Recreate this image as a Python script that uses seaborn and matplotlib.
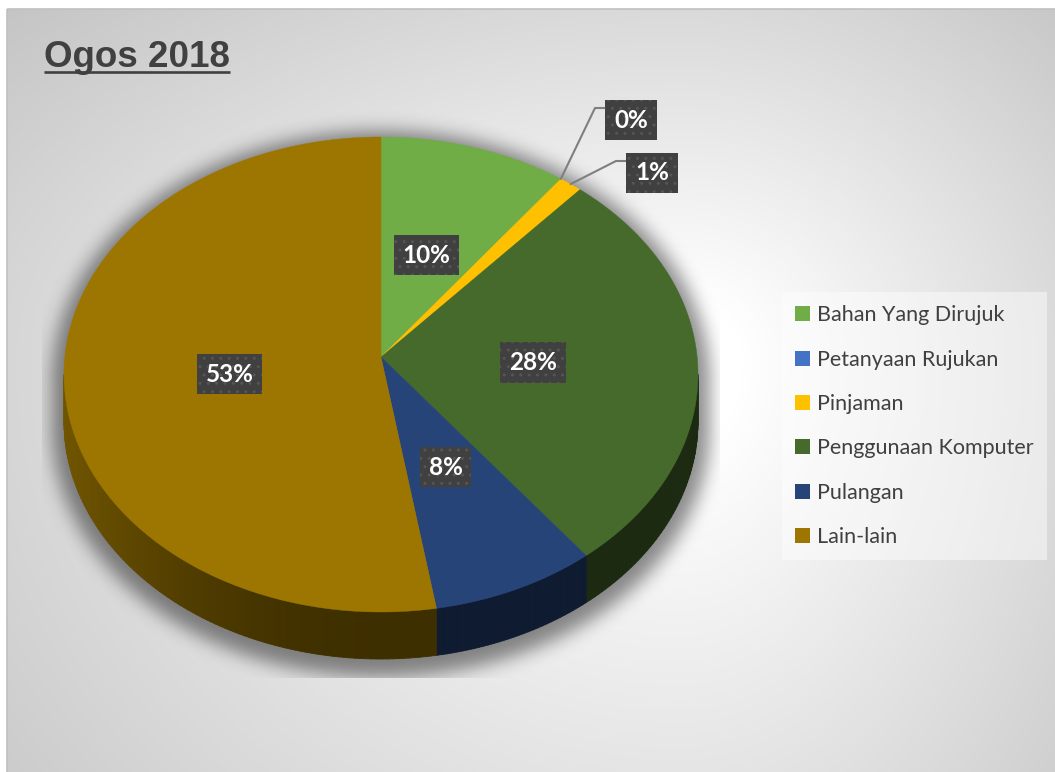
import numpy as np
import matplotlib
matplotlib.use('Agg')
import matplotlib.pyplot as plt
import seaborn as sns
from matplotlib.collections import PolyCollection
from matplotlib.patches import Patch, Polygon, Rectangle
from matplotlib.colors import to_rgb

# Chart data (percent of total)
categories = ['Bahan Yang Dirujuk', 'Petanyaan Rujukan', 'Pinjaman',
              'Penggunaan Komputer', 'Pulangan', 'Lain-lain']
values = [9.6, 0.0, 1.2, 28.0, 8.4, 52.8]
colors = ['#70ad47', '#4472c4', '#ffc000', '#456a2c', '#264478', '#9c7600']
title = 'Ogos 2018'

sns.set_style('white')
plt.rcParams['font.family'] = ['Lato', 'DejaVu Sans']
palette = sns.color_palette(colors)

W, H = 1055, 772
fig = plt.figure(figsize=(W / 100, H / 100), dpi=100)
ax = fig.add_axes([0, 0, 1, 1])
ax.set_xlim(0, W)
ax.set_ylim(H, 0)
ax.axis('off')

# pie geometry in pixels
CX, CY, RX, RY = 381, 374.5, 317, 237.5
VY = 357
DEPTH = 47


def arc(t0, t1, dy=0.0):
    n = max(2, int(abs(t1 - t0) * 2) + 2)
    t = np.radians(np.linspace(t0, t1, n))
    return np.column_stack([CX + RX * np.sin(t), CY + dy - RY * np.cos(t)])


def blur(a, s):
    x = np.arange(-3 * s, 3 * s + 1)
    k = np.exp(-0.5 * (x / s) ** 2)
    k /= k.sum()
    a = np.apply_along_axis(lambda r: np.convolve(r, k, mode='same'), 0, a)
    a = np.apply_along_axis(lambda r: np.convolve(r, k, mode='same'), 1, a)
    return a


# background gradient (white core right of the pie)
yy, xx = np.mgrid[0:H, 0:W] + 0.5
gx = np.where(xx < 680, (xx - 680) / 680, (xx - 680) / 420)
gy = np.where(yy < 360, (yy - 360) / 380, (yy - 360) / 600)
d = np.hypot(gx, gy)
bg = np.clip(1 - 0.19 * np.maximum(0, d - 0.15), 0, 1)
img = np.dstack([bg] * 3)
img[:9, :] = 1
img[:, :7] = 1
ax.imshow(img, extent=[0, W, H, 0], aspect='auto', zorder=0)
ax.add_patch(Rectangle((7, 9), W, H, fill=False, ec='#c0c0c0', lw=1.2, zorder=0.5))

# soft shadow behind the pie
ex, ey = RX + 12, RY + 12
sy0 = CY + 6
sil = ((((xx - CX) / ex) ** 2 + ((yy - sy0) / ey) ** 2) <= 1) | \
      ((((xx - CX) / ex) ** 2 + ((yy - sy0 - DEPTH) / ey) ** 2) <= 1) | \
      ((np.abs(xx - CX) <= ex) & (yy >= sy0) & (yy <= sy0 + DEPTH))
sh = blur(sil.astype(float), 9)
clip = (xx >= 42) & (xx <= 720) & (yy <= 678)
shadow = np.zeros((H, W, 4))
shadow[..., 3] = sh * 0.45 * clip
ax.imshow(shadow, extent=[0, W, H, 0], aspect='auto', zorder=1)

fractions = np.array(values) / sum(values)
edges = np.concatenate([[0], np.cumsum(fractions)]) * 360

# side walls of the visible front half
polys, cols = [], []
for i, (t0, t1) in enumerate(zip(edges[:-1], edges[1:])):
    a, b = max(t0, 90), min(t1, 270)
    if b <= a:
        continue
    base = np.array(to_rgb(palette[i]))
    ts = np.linspace(a, b, int(b - a) + 2)
    for u, v in zip(ts[:-1], ts[1:]):
        top = arc(u, v)[[0, -1]]
        bot = top + [0, DEPTH]
        m = np.radians((u + v) / 2)
        f = 0.4 + 0.32 * max(0.0, -np.sin(m)) ** 2
        polys.append([top[0], top[1], bot[1], bot[0]])
        cols.append(np.clip(base * f, 0, 1))
ax.add_collection(PolyCollection(polys, facecolors=cols, edgecolors=cols,
                                 linewidths=0.6, zorder=2))

# top faces
for i, (t0, t1) in enumerate(zip(edges[:-1], edges[1:])):
    if t1 - t0 < 1e-6:
        continue
    pts = np.vstack([[CX, VY], arc(t0, t1)])
    ax.add_patch(Polygon(pts, closed=True, fc=palette[i], ec=palette[i],
                         lw=0.3, zorder=3))

# data labels
box = dict(boxstyle='square,pad=0.36', fc='#404040', ec='#555555', lw=0, hatch='..')
outside = {'Petanyaan Rujukan': (631, 120), 'Pinjaman': (652, 173)}
for i, (t0, t1) in enumerate(zip(edges[:-1], edges[1:])):
    tm = np.radians((t0 + t1) / 2)
    txt = f'{round(fractions[i] * 100)}%'
    if categories[i] in outside:
        lx, ly = outside[categories[i]]
        px, py = CX + RX * np.sin(tm), CY - RY * np.cos(tm)
        ax.plot([px, lx - 36, lx - 26], [py, ly - 12, ly - 12],
                color='#7f7f7f', lw=1.5, zorder=4)
    else:
        lx = CX + 0.48 * RX * np.sin(tm)
        ly = VY + 7 - 0.48 * RY * np.cos(tm)
    ax.text(lx, ly, txt, color='white', fontsize=17.5, fontweight='bold',
            ha='center', va='center', bbox=box, zorder=5)

# legend
handles = [Patch(facecolor=palette[i], edgecolor='none', label=c)
           for i, c in enumerate(categories)]
leg = ax.legend(handles=handles, loc='upper left',
                bbox_to_anchor=(782 / W, 1 - 292 / H), frameon=True,
                facecolor='white', framealpha=0.45, edgecolor='none',
                fancybox=False, fontsize=15.5, labelcolor='#404040',
                handlelength=0.68, handleheight=0.68, handletextpad=0.32,
                labelspacing=1.13, borderaxespad=0, borderpad=0.62)
leg.set_zorder(4)

# title with underline
t = ax.text(44, 67, title, fontsize=26.5, fontweight='bold', color='#404040',
            family=['Liberation Sans', 'DejaVu Sans'], va='baseline', ha='left')
fig.canvas.draw()
bb = t.get_window_extent().transformed(ax.transData.inverted())
ax.plot([bb.x0, bb.x1], [71.5, 71.5], color='#404040', lw=1.9, zorder=5,
        solid_capstyle='butt')

fig.savefig('out.png', dpi=100)
